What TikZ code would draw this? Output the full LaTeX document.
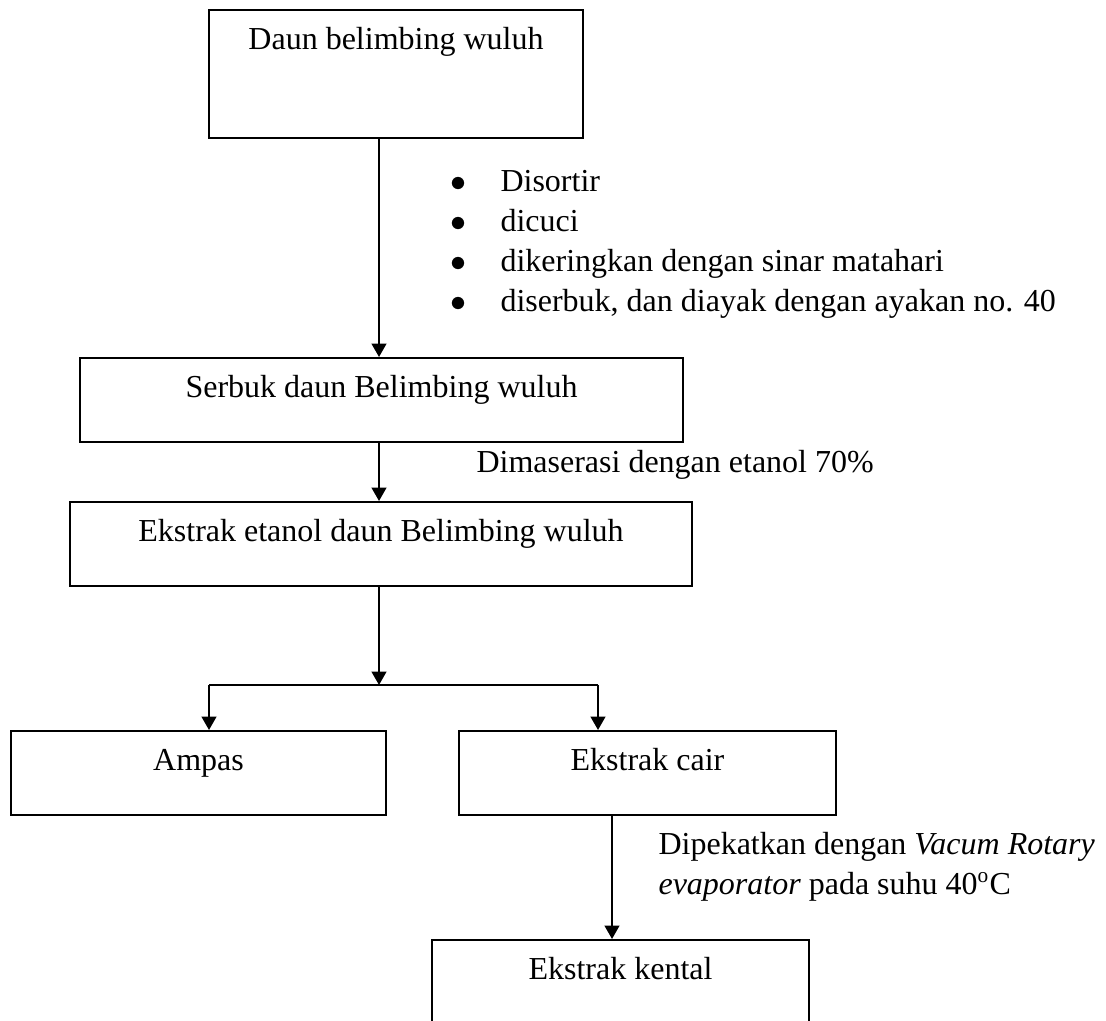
\documentclass[tikz,border=0pt]{standalone}
\usepackage{fontspec}
\setmainfont{Liberation Serif}
\usetikzlibrary{arrows.meta}

\begin{document}
\begin{tikzpicture}[x=0.375pt,y=-0.375pt,>={Triangle[length=5pt,width=5.5pt]},
    font=\fontsize{12}{15}\selectfont,
    stage/.style={draw,line width=0.6pt,anchor=north,inner sep=0pt,
      text height=15pt,text depth=16.5pt},
    flow/.style={->,line width=0.75pt}]
  \useasboundingbox (0,0) rectangle (1106,1021);
  \coordinate (spine) at (379,0);
  \coordinate (drop) at (612,0);
  \node[stage,minimum width=140.25pt,text depth=33pt] (daun) at (396,9) {Daun belimbing wuluh};
  \node[stage,minimum width=226.1pt] (serbuk) at (381.5,357) {Serbuk daun Belimbing wuluh};
  \node[stage,minimum width=233.25pt] (ekstrak) at (381,501) {Ekstrak etanol daun Belimbing wuluh};
  \node[stage,minimum width=140.6pt] (ampas) at (198.5,730) {Ampas};
  \node[stage,minimum width=141.4pt] (cair) at (647.5,730) {Ekstrak cair};
  \node[stage,minimum width=141.4pt] (kental) at (620.5,939) {Ekstrak kental};
  \coordinate (barL) at (209,685);
  \coordinate (barR) at (598,685);
  \node[anchor=north west,inner sep=0pt] (steps) at (450,163) {%
    \begin{tabular}{@{}l@{\hspace{12.75pt}}l@{}}
      $\bullet$ & Disortir\\
      $\bullet$ & dicuci\\
      $\bullet$ & dikeringkan dengan sinar matahari\\
      $\bullet$ & diserbuk, dan diayak dengan ayakan no. 40
    \end{tabular}};
  \node[anchor=base west,inner sep=0pt] (maserasi) at (476,473) {Dimaserasi dengan etanol 70\%};
  \node[anchor=north west,inner sep=0pt] (pekat) at (658,826) {%
    \begin{tabular}{@{}l@{}}
      Dipekatkan dengan \textit{Vacum Rotary}\\
      \textit{evaporator} pada suhu 40\textsuperscript{o}C
    \end{tabular}};
  \draw[flow] (daun.south -| spine) -- (serbuk.north -| spine);
  \draw[flow] (serbuk.south -| spine) -- (ekstrak.north -| spine);
  \draw[flow] (ekstrak.south -| spine) -- (spine |- barL);
  \draw[line width=0.75pt] (barL) -- (barR);
  \draw[flow] (barL) -- (ampas.north -| barL);
  \draw[flow] (barR) -- (cair.north -| barR);
  \draw[flow] (cair.south -| drop) -- (kental.north -| drop);
\end{tikzpicture}
\end{document}
